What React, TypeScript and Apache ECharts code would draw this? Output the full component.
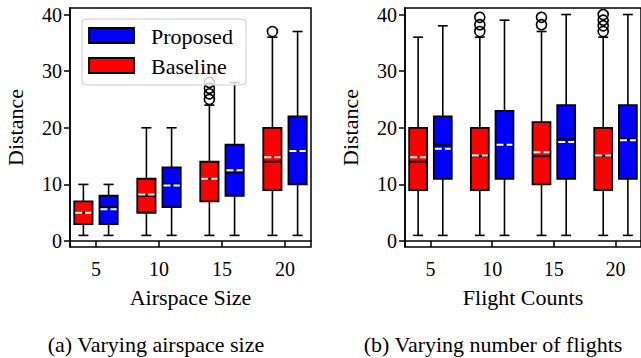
import React, { useEffect, useRef } from "react";
import * as echarts from "echarts";

// ---------- data ----------
const categories = [5, 10, 15, 20];
const xTickLabels = ["5", "10", "15", "20"];
const yTicks = [0, 10, 20, 30, 40];

// Left panel: airspace size
const airBaseMin = [1, 1, 1, 1];
const airBaseQ1 = [3, 5, 7, 9];
const airBaseMed = [5, 8, 11, 14];
const airBaseQ3 = [7, 11, 14, 20];
const airBaseMax = [10, 20, 24, 36];
const airBaseMean = [5, 8.2, 11, 14.8];
const airBaseOutliers = [[], [], [25, 26, 27, 28], [37]];

const airPropMin = [1, 1, 1, 1];
const airPropQ1 = [3, 6, 8, 10];
const airPropMed = [6, 10, 12, 16];
const airPropQ3 = [8, 13, 17, 22];
const airPropMax = [10, 20, 28, 37];
const airPropMean = [5.6, 9.8, 12.5, 15.9];
const airPropOutliers = [[], [], [], []];

// Right panel: flight counts
const fltBaseMin = [1, 1, 1, 1];
const fltBaseQ1 = [9, 9, 10, 9];
const fltBaseMed = [14, 15, 15, 15];
const fltBaseQ3 = [20, 20, 21, 20];
const fltBaseMax = [36, 36, 37, 36];
const fltBaseMean = [14.8, 15.1, 15.7, 15.1];
const fltBaseOutliers = [[], [37, 38.2, 39.5], [38.2, 39.5], [37, 38, 39, 40]];

const fltPropMin = [1, 1, 1, 1];
const fltPropQ1 = [11, 11, 11, 11];
const fltPropMed = [17, 17, 18, 18];
const fltPropQ3 = [22, 23, 24, 24];
const fltPropMax = [38, 39, 40, 40];
const fltPropMean = [16.3, 17, 17.5, 17.8];
const fltPropOutliers = [[], [], [], []];

// ---------- style constants ----------
const RED = "#ff0000";
const BLUE = "#0000ff";
const FONT = "'Liberation Serif', 'Times New Roman', serif";
const OFFSET = 1.0; // x offset of each box from its category (data units)
const BOX_W = 1.45; // box width (data units)
const CAP_W = 0.8; // cap width (data units)
const X_MIN = 2.937;
const X_MAX = 22.063;
const Y_MIN = -1.05;
const Y_MAX = 41.15;

function buildBoxData(mn: number[], q1: number[], md: number[], q3: number[], mx: number[], mean: number[], off: number) {
  return categories.map((c, i) => [c + off, mn[i], q1[i], md[i], q3[i], mx[i], mean[i]]);
}
function buildOutliers(out: number[][], off: number) {
  const res: number[][] = [];
  out.forEach((arr, i) => arr.forEach((v) => res.push([categories[i] + off, v])));
  return res;
}

function renderBox(color: string) {
  return (params: any, api: any) => {
    const x = api.value(0);
    const mn = api.value(1);
    const q1 = api.value(2);
    const md = api.value(3);
    const q3 = api.value(4);
    const mx = api.value(5);
    const mean = api.value(6);
    const pMin = api.coord([x, mn]);
    const pQ1 = api.coord([x, q1]);
    const pMd = api.coord([x, md]);
    const pQ3 = api.coord([x, q3]);
    const pMx = api.coord([x, mx]);
    const pMean = api.coord([x, mean]);
    const half = api.size([BOX_W, 0])[0] / 2;
    const capHalf = api.size([CAP_W, 0])[0] / 2;
    const cx = pQ1[0];
    const black = { stroke: "#000", lineWidth: 1.6 };
    return {
      type: "group",
      children: [
        { type: "line", shape: { x1: cx, y1: pMin[1], x2: cx, y2: pQ1[1] }, style: black },
        { type: "line", shape: { x1: cx, y1: pQ3[1], x2: cx, y2: pMx[1] }, style: black },
        { type: "line", shape: { x1: cx - capHalf, y1: pMin[1], x2: cx + capHalf, y2: pMin[1] }, style: black },
        { type: "line", shape: { x1: cx - capHalf, y1: pMx[1], x2: cx + capHalf, y2: pMx[1] }, style: black },
        {
          type: "rect",
          shape: { x: cx - half, y: pQ3[1], width: half * 2, height: pQ1[1] - pQ3[1] },
          style: { fill: color, stroke: "#000", lineWidth: 1.8 },
        },
        { type: "line", shape: { x1: cx - half, y1: pMd[1], x2: cx + half, y2: pMd[1] }, style: { stroke: "#000", lineWidth: 2 } },
        {
          type: "line",
          shape: { x1: cx - half + 1, y1: pMean[1], x2: cx + half - 1, y2: pMean[1] },
          style: { stroke: "#fff", lineWidth: 2, lineDash: [7, 3] },
        },
      ],
    };
  };
}

function xAxis(gridIndex: number, name: string) {
  return {
    type: "value",
    gridIndex,
    min: X_MIN,
    max: X_MAX,
    name,
    nameLocation: "middle",
    nameGap: 39,
    nameTextStyle: { fontFamily: FONT, fontSize: 22, color: "#000" },
    axisLine: { show: true, lineStyle: { color: "#000", width: 1.5 } },
    axisTick: { show: true, inside: false, length: 6, lineStyle: { color: "#000", width: 1.5 }, customValues: categories },
    axisLabel: {
      fontFamily: FONT,
      fontSize: 20,
      color: "#000",
      margin: 12,
      customValues: categories,
      formatter: (v: number) => xTickLabels[categories.indexOf(v)] ?? "",
    },
    splitLine: { show: false },
  };
}
function yAxis(gridIndex: number) {
  return {
    type: "value",
    gridIndex,
    min: Y_MIN,
    max: Y_MAX,
    name: "Distance",
    nameLocation: "middle",
    nameGap: 44,
    nameTextStyle: { fontFamily: FONT, fontSize: 22, color: "#000" },
    axisLine: { show: true, lineStyle: { color: "#000", width: 1.5 } },
    axisTick: { show: true, inside: false, length: 6, lineStyle: { color: "#000", width: 1.5 }, customValues: yTicks },
    axisLabel: { fontFamily: FONT, fontSize: 20, color: "#000", margin: 8, customValues: yTicks },
    splitLine: { show: false },
  };
}

function boxSeries(name: string, idx: number, color: string, data: number[][]) {
  return {
    type: "custom",
    name,
    xAxisIndex: idx,
    yAxisIndex: idx,
    renderItem: renderBox(color),
    data,
    z: 2,
  };
}
function outlierSeries(idx: number, data: number[][]) {
  return {
    type: "scatter",
    xAxisIndex: idx,
    yAxisIndex: idx,
    symbol: "circle",
    symbolSize: 10,
    itemStyle: { color: "rgba(0,0,0,0)", borderColor: "#000", borderWidth: 1.6, opacity: 1 },
    data,
    z: 3,
  };
}

export default function App() {
  const ref = useRef<HTMLDivElement>(null);
  useEffect(() => {
    if (!ref.current) return;
    const chart = echarts.init(ref.current, undefined, { renderer: "svg" });
    const option: any = {
      animation: false,
      backgroundColor: "#fff",
      textStyle: { fontFamily: FONT },
      grid: [
        { left: 70, top: 8, width: 241, height: 239, show: true, borderColor: "#000", borderWidth: 1.5 },
        { left: 405, top: 8, width: 241, height: 239, show: true, borderColor: "#000", borderWidth: 1.5 },
      ],
      xAxis: [xAxis(0, "Airspace Size"), xAxis(1, "Flight Counts")],
      yAxis: [yAxis(0), yAxis(1)],
      series: [
        boxSeries("Baseline", 0, RED, buildBoxData(airBaseMin, airBaseQ1, airBaseMed, airBaseQ3, airBaseMax, airBaseMean, -OFFSET)),
        boxSeries("Proposed", 0, BLUE, buildBoxData(airPropMin, airPropQ1, airPropMed, airPropQ3, airPropMax, airPropMean, OFFSET)),
        outlierSeries(0, buildOutliers(airBaseOutliers, -OFFSET).concat(buildOutliers(airPropOutliers, OFFSET))),
        boxSeries("Baseline", 1, RED, buildBoxData(fltBaseMin, fltBaseQ1, fltBaseMed, fltBaseQ3, fltBaseMax, fltBaseMean, -OFFSET)),
        boxSeries("Proposed", 1, BLUE, buildBoxData(fltPropMin, fltPropQ1, fltPropMed, fltPropQ3, fltPropMax, fltPropMean, OFFSET)),
        outlierSeries(1, buildOutliers(fltBaseOutliers, -OFFSET).concat(buildOutliers(fltPropOutliers, OFFSET))),
      ],
      graphic: [
        {
          type: "rect",
          z: 100,
          shape: { x: 82, y: 19, width: 164, height: 66, r: 4 },
          style: { fill: "rgba(255,255,255,0.8)", stroke: "#cccccc", lineWidth: 1 },
        },
        {
          type: "rect",
          z: 101,
          shape: { x: 89, y: 28, width: 45, height: 15 },
          style: { fill: BLUE, stroke: "#000", lineWidth: 1.8 },
        },
        {
          type: "rect",
          z: 101,
          shape: { x: 89, y: 58, width: 45, height: 15 },
          style: { fill: RED, stroke: "#000", lineWidth: 1.8 },
        },
        {
          type: "text",
          z: 101,
          x: 151,
          y: 36,
          style: { text: "Proposed", fontFamily: FONT, fontSize: 22, fill: "#000", verticalAlign: "middle" },
        },
        {
          type: "text",
          z: 101,
          x: 151,
          y: 66,
          style: { text: "Baseline", fontFamily: FONT, fontSize: 22, fill: "#000", verticalAlign: "middle" },
        },
        {
          type: "text",
          z: 101,
          x: 156,
          y: 344,
          style: { text: "(a) Varying airspace size", fontFamily: FONT, fontSize: 22, fill: "#000", align: "center", verticalAlign: "middle" },
        },
        {
          type: "text",
          z: 101,
          x: 493,
          y: 344,
          style: { text: "(b) Varying number of flights", fontFamily: FONT, fontSize: 22, fill: "#000", align: "center", verticalAlign: "middle" },
        },
      ],
    };
    chart.setOption(option);
    return () => chart.dispose();
  }, []);
  return <div ref={ref} style={{ position: "fixed", left: 0, top: 0, width: 641, height: 358 }} />;
}
